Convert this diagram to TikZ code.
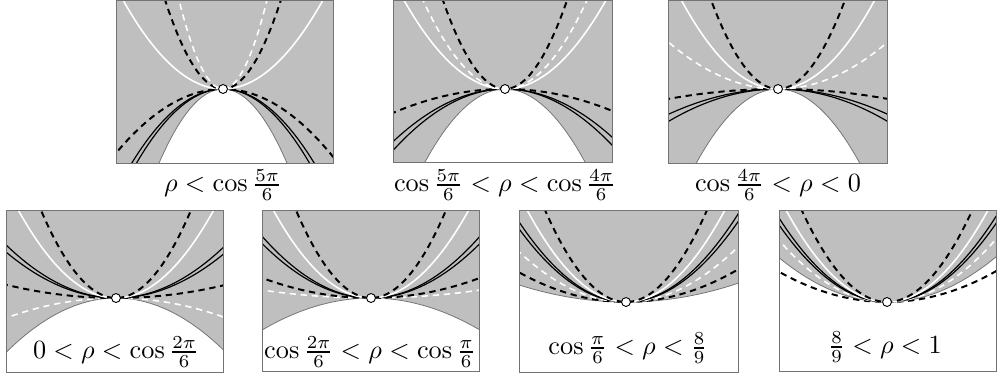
\documentclass[tikz,border=0pt]{standalone}
\usepackage{amsmath,amssymb}
\usepackage{tikz}
\usetikzlibrary{positioning}
\usepackage{xcolor}
\definecolor{areagrey}{gray}{0.75}
\definecolor{rim}{gray}{0.45}
% parabola y = k x^2 through the touching point
\newcommand{\parab}[1]{plot[domain=-125:125,samples=61] (\x,{#1*\x*\x})}

\begin{document}
\begin{tikzpicture}[
    x=0.381pt, y=-0.381pt,
    frame/.style={draw=rim,line width=0.35pt},
    bound/.style={draw=rim,line width=0.3pt},
    wline/.style={white,line width=0.6pt},
    wdash/.style={white,line width=0.6pt,dash pattern=on 2.4pt off 1.8pt},
    bdash/.style={black,line width=0.75pt,dash pattern=on 2.4pt off 1.8pt},
    dbl/.style={black,line width=0.45pt},
    touch/.style={circle,draw=black,fill=white,line width=0.35pt,inner sep=0pt,minimum size=3.4pt},
    lbl/.style={font=\normalsize}
]
\useasboundingbox (0,0) rectangle (997,378);

% top row
\begin{scope}[shift={(223,89)},yscale=-1]
  \clip (-107,-74) rectangle (110,89);
  \fill[areagrey] (-107,-74) rectangle (110,89);
  \fill[white] \parab{-0.0181} -- (125,-400) -- (-125,-400) -- cycle;
  \draw[bound] \parab{-0.0181};
  \draw[dbl] \parab{-0.0089};
  \draw[dbl] \parab{-0.0099};
  \draw[bdash] \parab{-0.0056};
  \draw[wline] \parab{0.0089};
  \draw[bdash] \parab{0.0265};
  \draw[wdash] \parab{0.046};
  \node[touch] (o1) at (0,0) {};
\end{scope}
\draw[frame] (116,0) rectangle (333,163);
\node[lbl] (l1) at (223,185) {$\rho<\cos\frac{5\pi}{6}$};

\begin{scope}[shift={(505,89)},yscale=-1]
  \clip (-112,-73) rectangle (107,89);
  \fill[areagrey] (-112,-73) rectangle (107,89);
  \fill[white] \parab{-0.0114} -- (125,-400) -- (-125,-400) -- cycle;
  \draw[bound] \parab{-0.0114};
  \draw[dbl] \parab{-0.0042};
  \draw[dbl] \parab{-0.0049};
  \draw[bdash] \parab{-0.0019};
  \draw[wline] \parab{0.0087};
  \draw[wdash] \parab{0.0132};
  \draw[bdash] \parab{0.023};
  \node[touch] (o2) at (0,0) {};
\end{scope}
\draw[frame] (393,0) rectangle (612,162);
\node[lbl] (l2) at (505,185) {$\cos\frac{5\pi}{6}<\rho<\cos\frac{4\pi}{6}$};

\begin{scope}[shift={(778,89)},yscale=-1]
  \clip (-110,-74) rectangle (109,89);
  \fill[areagrey] (-110,-74) rectangle (109,89);
  \fill[white] \parab{-0.0111} -- (125,-400) -- (-125,-400) -- cycle;
  \draw[bound] \parab{-0.0111};
  \draw[dbl] \parab{-0.0021};
  \draw[dbl] \parab{-0.0027};
  \draw[bdash] \parab{-0.00083};
  \draw[wdash] \parab{0.0039};
  \draw[wline] \parab{0.0095};
  \draw[bdash] \parab{0.0198};
  \node[touch] (o3) at (0,0) {};
\end{scope}
\draw[frame] (668,0) rectangle (887,163);
\node[lbl] (l3) at (778,185) {$\cos\frac{4\pi}{6}<\rho<0$};

% bottom row
\begin{scope}[shift={(116,298)},yscale=-1]
  \clip (-110,-74) rectangle (107,88);
  \fill[areagrey] (-110,-74) rectangle (107,88);
  \fill[white] \parab{-0.0045} -- (125,-400) -- (-125,-400) -- cycle;
  \draw[bound] \parab{-0.0045};
  \draw[wdash] \parab{-0.00165};
  \draw[bdash] \parab{0.0011};
  \draw[dbl] \parab{0.0038};
  \draw[dbl] \parab{0.0044};
  \draw[wline] \parab{0.0092};
  \draw[bdash] \parab{0.0156};
  \node[touch] (o4) at (0,0) {};
\end{scope}
\draw[frame] (6,210) rectangle (223,372);
\node[lbl] (l4) at (116,352) {$0<\rho<\cos\frac{2\pi}{6}$};

\begin{scope}[shift={(371,298)},yscale=-1]
  \clip (-109,-73) rectangle (108,88);
  \fill[areagrey] (-109,-73) rectangle (108,88);
  \fill[white] \parab{-0.0027} -- (125,-400) -- (-125,-400) -- cycle;
  \draw[bound] \parab{-0.0027};
  \draw[wdash] \parab{0.00067};
  \draw[bdash] \parab{0.0017};
  \draw[dbl] \parab{0.0046};
  \draw[dbl] \parab{0.0052};
  \draw[wline] \parab{0.0092};
  \draw[bdash] \parab{0.0156};
  \node[touch] (o5) at (0,0) {};
\end{scope}
\draw[frame] (262,210) rectangle (479,371);
\node[lbl] (l5) at (370,352) {$\cos\frac{2\pi}{6}<\rho<\cos\frac{\pi}{6}$};

\begin{scope}[shift={(626,302)},yscale=-1]
  \clip (-107,-70) rectangle (112,92);
  \fill[areagrey] (-107,-70) rectangle (112,92);
  \fill[white] \parab{0.0015} -- (125,-400) -- (-125,-400) -- cycle;
  \draw[bound] \parab{0.0015};
  \draw[bdash] \parab{0.0026};
  \draw[wdash] \parab{0.0044};
  \draw[dbl] \parab{0.0064};
  \draw[dbl] \parab{0.0070};
  \draw[wline] \parab{0.0094};
  \draw[bdash] \parab{0.014};
  \node[touch] (o6) at (0,0) {};
\end{scope}
\draw[frame] (519,210) rectangle (738,372);
\node[lbl] (l6) at (628,348) {$\cos\frac{\pi}{6}<\rho<\frac{8}{9}$};

\begin{scope}[shift={(887,302)},yscale=-1]
  \clip (-108,-69) rectangle (109,92);
  \fill[areagrey] (-108,-69) rectangle (109,92);
  \fill[white] \parab{0.0038} -- (125,-400) -- (-125,-400) -- cycle;
  \draw[bound] \parab{0.0038};
  \draw[bdash] \parab{0.0026};
  \draw[wdash] \parab{0.0053};
  \draw[dbl] \parab{0.0066};
  \draw[dbl] \parab{0.0072};
  \draw[wline] \parab{0.0090};
  \draw[bdash] \parab{0.0126};
  \node[touch] (o7) at (0,0) {};
\end{scope}
\draw[frame] (779,210) rectangle (996,371);
\node[lbl] (l7) at (885,347) {$\frac{8}{9}<\rho<1$};
\end{tikzpicture}
\end{document}
